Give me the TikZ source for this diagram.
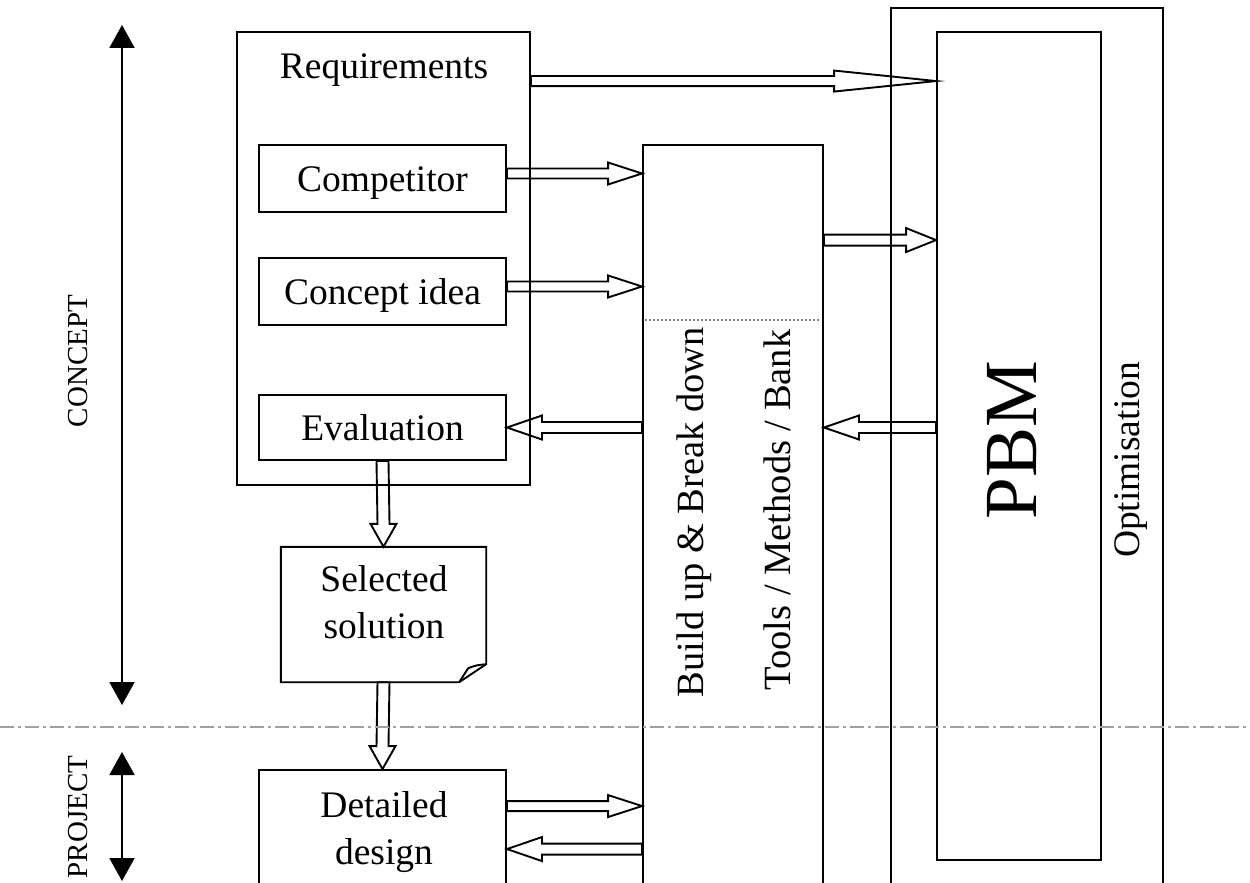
\documentclass[tikz,border=0pt]{standalone}
\usepackage{fontspec}
\setmainfont{Liberation Serif}
\usetikzlibrary{calc,arrows.meta}
\definecolor{sepgray}{HTML}{A0A0A0}
\newcommand\harr[5]{\draw[blk] ($#1+(0,-#4)$) -- ($#2+({-(#3)},-#4)$) -- ($#2+({-(#3)},-#5)$) -- #2 -- ($#2+({-(#3)},#5)$) -- ($#2+({-(#3)},#4)$) -- ($#1+(0,#4)$) -- cycle;}
\newcommand\varr[5]{\draw[blk] ($#1+(-#4,0)$) -- ($#2+(-#4,{-(#3)})$) -- ($#2+(-#5,{-(#3)})$) -- #2 -- ($#2+(#5,{-(#3)})$) -- ($#2+(#4,{-(#3)})$) -- ($#1+(#4,0)$) -- cycle;}
\begin{document}
\begin{tikzpicture}[x=1pt,y=-1pt,
  box/.style={draw, line width=1.9pt, inner sep=0pt},
  txt/.style={font=\fontsize{37.5}{47}\selectfont, align=center, inner sep=0pt},
  boxt/.style={box, font=\fontsize{37.5}{47}\selectfont, text height=30pt, text depth=4.5pt},
  small/.style={font=\fontsize{29}{35}\selectfont, inner sep=0pt, rotate=90},
  blk/.style={draw, line width=1.9pt, line join=miter},
  dbl/.style={line width=2pt, {Triangle[length=23pt,width=25pt]}-{Triangle[length=23pt,width=25pt]}}
]
\clip (0,0) rectangle (1250,883);
\fill[white] (0,0) rectangle (1250,883);

% left column
\node[box, minimum width=293, minimum height=453] (req) at (383.5,258.5) {};
\node[txt] (reqt) at (384,70) {Requirements};
\node[boxt, minimum width=247, minimum height=67] (comp) at (382.5,178.5) {Competitor};
\node[boxt, minimum width=247, minimum height=67] (idea) at (382.5,291.5) {Concept idea};
\node[boxt, minimum width=247, minimum height=65] (eval) at (382.5,427.5) {Evaluation};

% selected solution (document shape)
\node[inner sep=0pt, minimum width=205, minimum height=135] (sel) at (383.5,614.5) {};
\draw[line width=1.9pt, line join=miter] (sel.north west) -- (sel.north east) -- ($(sel.south east)+(0,-18)$) -- ($(sel.south east)+(-27,0)$) -- (sel.south west) -- cycle;
\draw[line width=1.9pt] ($(sel.south east)+(0,-18)$) .. controls ($(sel.south east)+(-10,-17)$) .. ($(sel.south east)+(-18,-14)$) -- ($(sel.south east)+(-27,0)$);
\node[txt] (selt) at (384,602) {Selected\\solution};

\node[box, minimum width=247, minimum height=150] (det) at (382.5,845) {};
\node[txt] (dett) at (384,832) {Detailed\\design};

% middle column
\node[box, minimum width=180, minimum height=780] (mid) at (733,535) {};
\draw[gray, line width=1.2pt, dash pattern=on 2pt off 2pt] ($(mid.north west)+(3,176)$) -- ($(mid.north east)+(-3,176)$);
\node[txt, rotate=90, font=\fontsize{38.5}{47}\selectfont] (bub) at (694,512) {Build up \& Break down};
\node[txt, rotate=90, font=\fontsize{38.5}{47}\selectfont] (tmb) at (777,510) {Tools / Methods / Bank};

% right column
\node[box, minimum width=272, minimum height=910] (outer) at (1027,463) {};
\node[box, minimum width=164, minimum height=828] (pbm) at (1019,446) {};
\node[inner sep=0pt, rotate=90, font=\fontsize{75}{80}\selectfont] (pbmt) at (1012,440) {PBM};
\node[txt, rotate=90] (opt) at (1131,460) {Optimisation};

% block arrows
\coordinate (r1) at ($(req.north east)+(0,50)$);
\coordinate (r2) at (r1 -| pbm.west);
\harr{(r1)}{(r2)}{102}{5}{10.5}
\coordinate (c1) at ($(comp.east)+(0,-5)$);
\coordinate (c2) at (c1 -| mid.west);
\harr{(c1)}{(c2)}{34}{5}{11}
\coordinate (i1) at ($(idea.east)+(0,-5)$);
\coordinate (i2) at (i1 -| mid.west);
\harr{(i1)}{(i2)}{34}{5}{11}
\coordinate (m1) at ($(mid.north east)+(0,96)$);
\coordinate (m2) at (m1 -| pbm.west);
\harr{(m1)}{(m2)}{30}{5.5}{12}
\coordinate (e1) at (eval.east -| mid.west);
\harr{(e1)}{(eval.east)}{-35}{5.5}{12}
\coordinate (p1) at (eval.east -| pbm.west);
\coordinate (p2) at (eval.east -| mid.east);
\harr{(p1)}{(p2)}{-35}{5.5}{12}
\coordinate (d1) at ($(det.north east)+(0,37)$);
\coordinate (d2) at (d1 -| mid.west);
\harr{(d1)}{(d2)}{34}{5}{11}
\coordinate (d3) at ($(det.north east)+(0,80)$);
\coordinate (d4) at (d3 -| mid.west);
\harr{(d4)}{(d3)}{-35}{5.5}{12}
\varr{(eval.south)}{(sel.north)}{23}{6}{13}
\varr{(sel.south)}{(det.north)}{23}{6}{13}

% phase separator
\draw[sepgray, line width=2pt, dash pattern=on 14pt off 4pt on 3pt off 4pt] (0,727) -- (1250,727);

% phase arrows
\coordinate (ct) at (122,25);
\coordinate (cb) at (122,705);
\draw[dbl] (ct) -- (cb);
\node[small] (concept) at (78,361) {CONCEPT};
\coordinate (pt) at (122,752);
\coordinate (pb) at (122,881);
\draw[dbl] (pt) -- (pb);
\node[small] (project) at (78,817) {PROJECT};
\end{tikzpicture}
\end{document}
